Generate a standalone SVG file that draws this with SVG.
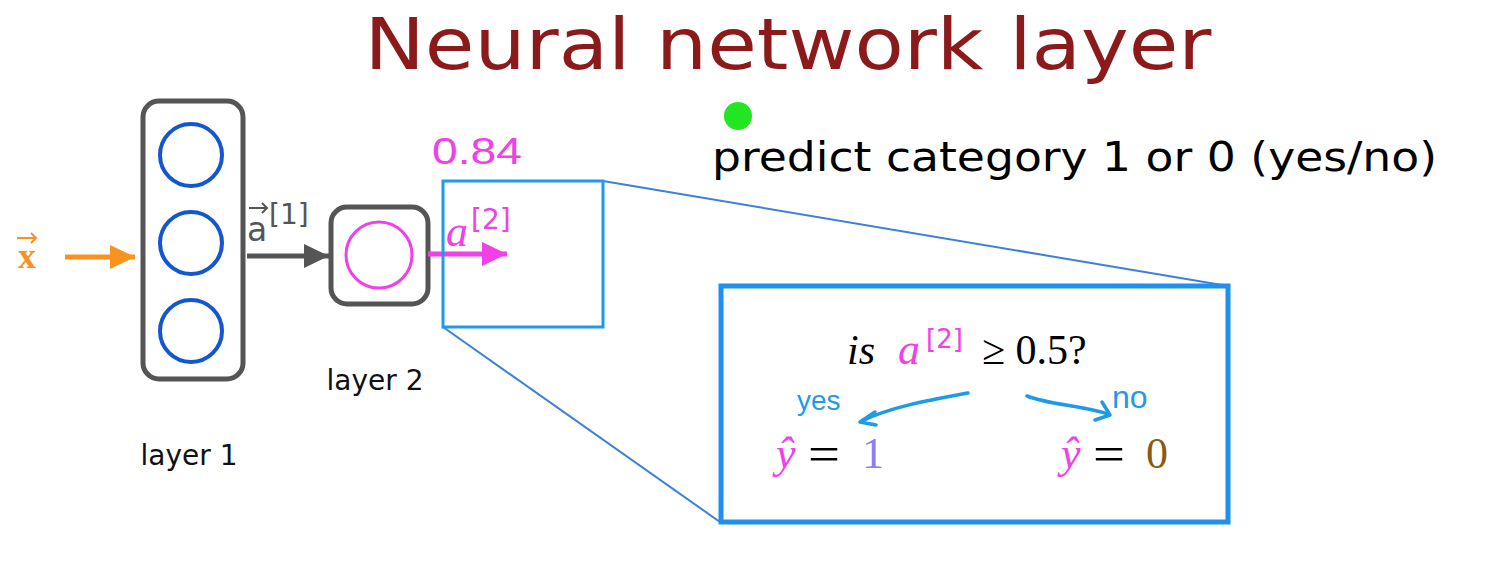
<svg xmlns="http://www.w3.org/2000/svg" width="1491" height="579" viewBox="0 0 1491 579">
<style>
.sans{font-family:"DejaVu Sans","Liberation Sans",sans-serif}
.math{font-family:"Liberation Serif","DejaVu Serif",serif}
.hand{font-family:"Liberation Sans","DejaVu Sans",sans-serif}
.layerbox{fill:none;stroke:#555;stroke-width:5}
.blueC{fill:none;stroke:#1456d0;stroke-width:4}
</style>
<defs>
<marker id="ho" markerWidth="6" markerHeight="6" refX="5" refY="3" orient="auto" markerUnits="strokeWidth"><path d="M0,0.6 L5,3 L0,5.4z" fill="#f7931e"/></marker>
<marker id="hg" markerWidth="6" markerHeight="6" refX="5" refY="3" orient="auto" markerUnits="strokeWidth"><path d="M0,0.6 L5,3 L0,5.4z" fill="#555"/></marker>
<marker id="hm" markerWidth="6" markerHeight="6" refX="5" refY="3" orient="auto" markerUnits="strokeWidth"><path d="M0,0.6 L5,3 L0,5.4z" fill="#f040e8"/></marker>
</defs>
<rect width="1491" height="579" fill="#fff"/>
<text x="788" y="69" text-anchor="middle" class="sans" font-size="72" fill="#8b1a1a" textLength="847" lengthAdjust="spacingAndGlyphs">Neural network layer</text>

<g id="bullet"><circle cx="738" cy="116" r="14" fill="#22e622"/></g>
<text x="712" y="171" class="sans" font-size="41" fill="#000" textLength="725" lengthAdjust="spacingAndGlyphs">predict category 1 or 0 (yes/no)</text>

<g id="x-input">
<text x="27" y="268" text-anchor="middle" class="math" font-size="36" font-weight="bold" fill="#f7931e">x</text>
<path d="M17,238 H36 M31,233 L36,238 L31,243" fill="none" stroke="#f7931e" stroke-width="2"/>
</g>

<g id="layer1">
<rect x="143" y="101" width="100" height="278" rx="16" class="layerbox"/>
<circle cx="191" cy="155" r="31" class="blueC"/>
<circle cx="191" cy="243" r="31" class="blueC"/>
<circle cx="191" cy="331" r="31" class="blueC"/>
<text x="189" y="465" text-anchor="middle" class="sans" font-size="28" fill="#111">layer 1</text>
</g>

<g id="layer2">
<rect x="331" y="207" width="97" height="97" rx="16" class="layerbox"/>
<circle cx="379" cy="255" r="33" fill="none" stroke="#f040e8" stroke-width="3"/>
<text x="375" y="390" text-anchor="middle" class="sans" font-size="28" fill="#111">layer 2</text>
</g>

<g id="connectors">
<line x1="65" y1="257" x2="135" y2="257" stroke="#f7931e" stroke-width="5" marker-end="url(#ho)"/>
<line x1="247" y1="256" x2="329" y2="256" stroke="#555" stroke-width="5" marker-end="url(#hg)"/>
<line x1="428" y1="254" x2="507" y2="254" stroke="#f040e8" stroke-width="5" marker-end="url(#hm)"/>
<line x1="603" y1="181" x2="1228" y2="286" stroke="#3f7fdc" stroke-width="2"/>
<line x1="443" y1="327" x2="720" y2="522" stroke="#3f7fdc" stroke-width="2"/>
<path d="M968,393 C930,400 890,407 862,421" fill="none" stroke="#1e9ae6" stroke-width="3.5" stroke-linecap="round"/>
<path d="M875,412 L860,422 L876,425" fill="none" stroke="#1e9ae6" stroke-width="3.5" stroke-linecap="round" stroke-linejoin="round"/>
<path d="M1027,396 C1050,405 1080,405 1108,414" fill="none" stroke="#1e9ae6" stroke-width="3.5" stroke-linecap="round"/>
<path d="M1095,420 L1110,415 L1102,402" fill="none" stroke="#1e9ae6" stroke-width="3.5" stroke-linecap="round" stroke-linejoin="round"/>
</g>

<g id="a1-label">
<text x="247" y="241" class="sans" font-size="33" fill="#555">a</text>
<path d="M249,208 H267 M262,203 L267,208 L262,213" fill="none" stroke="#555" stroke-width="2"/>
<text x="269" y="224" class="sans" font-size="28" fill="#555">[1]</text>
</g>

<g id="a2-label">
<text x="446" y="246" class="math" font-style="italic" font-size="44" fill="#f040e8">a</text>
<text x="471" y="229" class="sans" font-size="28" fill="#f040e8">[2]</text>
</g>

<text x="432" y="164" class="hand" font-size="36" fill="#f040e8" textLength="90" lengthAdjust="spacingAndGlyphs">0.84</text>

<g id="zoom-small"><rect x="443" y="181" width="160" height="146" fill="none" stroke="#1e9af0" stroke-width="3"/></g>

<g id="decision-box">
<rect x="721" y="286" width="507" height="236" fill="none" stroke="#1e90f0" stroke-width="5"/>
<text x="847" y="364" class="math" font-style="italic" font-size="42" fill="#000">is</text>
<text x="898" y="364" class="math" font-style="italic" font-size="44" fill="#f040e8">a</text>
<text x="926" y="348" class="sans" font-size="26" fill="#f040e8">[2]</text>
<text x="982" y="364" class="math" font-size="42" fill="#000">≥ 0.5?</text>
<text x="797" y="410" class="hand" font-size="28" fill="#1e9ae6">yes</text>
<text x="1112" y="408" class="hand" font-size="32" fill="#1e9ae6">no</text>
<text x="776" y="468" class="math" font-style="italic" font-size="44" fill="#f040e8">ŷ</text>
<text x="808" y="471" class="math" font-size="50" fill="#000" textLength="32" lengthAdjust="spacingAndGlyphs">=</text>
<text x="862" y="468" class="math" font-size="44" fill="#8a7ef0">1</text>
<text x="1061" y="468" class="math" font-style="italic" font-size="44" fill="#f040e8">ŷ</text>
<text x="1093" y="471" class="math" font-size="50" fill="#000" textLength="32" lengthAdjust="spacingAndGlyphs">=</text>
<text x="1146" y="468" class="math" font-size="44" fill="#8b5a10">0</text>
</g>
</svg>
